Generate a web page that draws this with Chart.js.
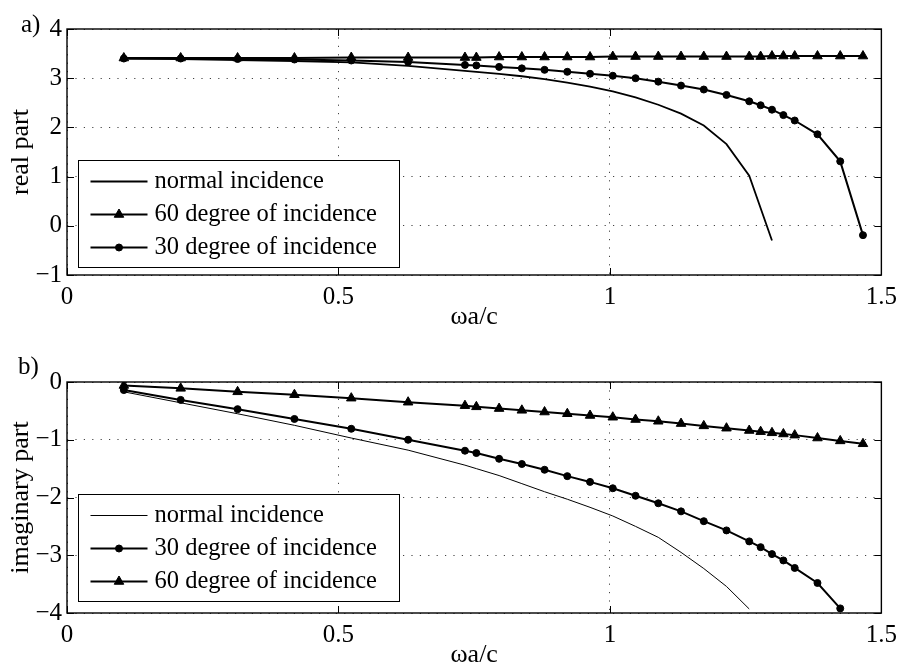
<!DOCTYPE html>
<html>
<head>
<meta charset="utf-8">
<script src="https://cdn.jsdelivr.net/npm/chart.js@4"></script>
<style>
  body { margin: 0; background: #fff; }
  #wrap { position: relative; width: 904px; height: 668px; font-family: 'Liberation Serif', 'Times New Roman', serif; }
  canvas { position: absolute; left: 0; }
  .tag { position: absolute; font-size: 25px; line-height: 25px; color: #000; }
</style>
</head>
<body>
<div id="wrap">
  <canvas id="realChart" width="904" height="334" style="top:0"></canvas>
  <canvas id="imagChart" width="904" height="334" style="top:334px"></canvas>
  <div class="tag" style="left:21px;top:11px">a)</div>
  <div class="tag" style="left:18px;top:353px">b)</div>
</div>
<script>
// frequency samples (ωa/c)
var omega = [0.1047, 0.2094, 0.3142, 0.4189, 0.5236, 0.6283, 0.7330, 0.7540, 0.7959, 0.8378,
             0.8796, 0.9215, 0.9634, 1.0053, 1.0472, 1.0891, 1.1310, 1.1729, 1.2147, 1.2566,
             1.2776, 1.2985, 1.3195, 1.3404, 1.3823, 1.4242, 1.4661];
var omegaNormal = [0.1047, 0.2094, 0.3142, 0.4189, 0.5236, 0.6283, 0.7330, 0.7540, 0.7959, 0.8378,
                   0.8796, 0.9215, 0.9634, 1.0053, 1.0472, 1.0891, 1.1310, 1.1729, 1.2147, 1.2566,
                   1.2985];

// real part
var realNormal = [3.40, 3.39, 3.37, 3.35, 3.32, 3.25, 3.15, 3.13, 3.09, 3.04,
                  2.98, 2.91, 2.83, 2.73, 2.61, 2.46, 2.28, 2.04, 1.66, 1.02, -0.30];
var real60 = [3.41, 3.41, 3.41, 3.41, 3.42, 3.42, 3.42, 3.42, 3.43, 3.43,
              3.43, 3.43, 3.43, 3.44, 3.44, 3.44, 3.44, 3.44, 3.44, 3.44,
              3.44, 3.45, 3.45, 3.45, 3.45, 3.45, 3.45];
var real30 = [3.40, 3.40, 3.39, 3.38, 3.36, 3.33, 3.27, 3.26, 3.23, 3.20,
              3.17, 3.13, 3.09, 3.05, 3.00, 2.93, 2.85, 2.77, 2.66, 2.53,
              2.45, 2.36, 2.25, 2.14, 1.86, 1.31, -0.19];

// imaginary part
var imagNormal = [-0.17, -0.36, -0.55, -0.75, -0.97, -1.18, -1.44, -1.50, -1.62, -1.76,
                  -1.90, -2.03, -2.17, -2.32, -2.50, -2.69, -2.95, -3.23, -3.54, -3.93];
var imag30 = [-0.14, -0.31, -0.47, -0.64, -0.81, -1.00, -1.19, -1.23, -1.33, -1.42,
              -1.52, -1.63, -1.73, -1.84, -1.97, -2.10, -2.24, -2.41, -2.57, -2.76,
              -2.86, -2.98, -3.09, -3.22, -3.48, -3.92];
var imag60 = [-0.06, -0.11, -0.17, -0.22, -0.28, -0.35, -0.41, -0.43, -0.46, -0.49,
              -0.52, -0.55, -0.58, -0.61, -0.65, -0.68, -0.72, -0.76, -0.80, -0.84,
              -0.86, -0.88, -0.90, -0.92, -0.97, -1.02, -1.07];

var xTicks = [0, 0.5, 1, 1.5];

function points(xs, ys) {
    return ys.map(function(y, i) { return {x: xs[i], y: y}; });
}

Chart.defaults.font.family = "'Liberation Serif', 'Times New Roman', serif";
Chart.defaults.font.size = 25;
Chart.defaults.color = '#000';

function plain(label, data, width) {
    return {label: label, data: data, borderColor: '#000', borderWidth: width,
            pointRadius: 0, tension: 0};
}
function marked(label, data, style, radius) {
    return {label: label, data: data, borderColor: '#000', borderWidth: 2, tension: 0,
            pointStyle: style, pointRadius: radius, pointBorderWidth: 1,
            pointBackgroundColor: '#000', pointBorderColor: '#000'};
}

function tickText(v) {
    return String(v).replace('-', '\u2212');
}

// box around the plot, inward ticks and a legend sitting inside the axes
var framePlugin = {
    id: 'frame',
    afterDatasetsDraw: function(chart) {
        var ctx = chart.ctx, ca = chart.chartArea;
        var sx = chart.scales.x, sy = chart.scales.y;
        ctx.save();
        ctx.strokeStyle = '#000';
        ctx.lineWidth = 1;
        ctx.beginPath();
        sx.ticks.forEach(function(t) {
            var px = Math.round(sx.getPixelForValue(t.value)) + 0.5;
            ctx.moveTo(px, ca.bottom); ctx.lineTo(px, ca.bottom - 7);
            ctx.moveTo(px, ca.top); ctx.lineTo(px, ca.top + 7);
        });
        sy.ticks.forEach(function(t) {
            var py = Math.round(sy.getPixelForValue(t.value)) + 0.5;
            ctx.moveTo(ca.left, py); ctx.lineTo(ca.left + 7, py);
            ctx.moveTo(ca.right, py); ctx.lineTo(ca.right - 7, py);
        });
        ctx.stroke();
        ctx.lineWidth = 1.4;
        ctx.strokeRect(ca.left, ca.top, ca.right - ca.left, ca.bottom - ca.top);
        ctx.restore();
    },
    afterDraw: function(chart, args, opts) {
        var ctx = chart.ctx, ca = chart.chartArea;
        var bx = Math.round(ca.left + opts.left) + 0.5;
        var by = Math.round(ca.bottom - opts.bottom - opts.height) + 0.5;
        ctx.save();
        ctx.fillStyle = '#fff';
        ctx.fillRect(bx, by, opts.width, opts.height);
        ctx.strokeStyle = '#000';
        ctx.lineWidth = 1;
        ctx.strokeRect(bx, by, opts.width, opts.height);
        ctx.font = "24.5px 'Liberation Serif', 'Times New Roman', serif";
        ctx.textBaseline = 'middle';
        chart.data.datasets.forEach(function(ds, i) {
            var y = by + 21 + 33 * i;
            ctx.strokeStyle = '#000';
            ctx.fillStyle = '#000';
            ctx.lineWidth = ds.borderWidth;
            ctx.beginPath();
            ctx.moveTo(bx + 12, y);
            ctx.lineTo(bx + 69, y);
            ctx.stroke();
            if (ds.pointRadius > 0) {
                ctx.lineWidth = ds.pointBorderWidth;
                Chart.helpers.drawPoint(ctx, {pointStyle: ds.pointStyle, radius: ds.pointRadius,
                    borderWidth: ds.pointBorderWidth, rotation: 0}, bx + 40.5, y);
            }
            ctx.fillText(ds.label, bx + 76, y);
        });
        ctx.restore();
    }
};

function makeOptions(yMin, yMax, yTitle, xHeight, xTitlePad, legendGap) {
    return {
        responsive: false,
        animation: false,
        events: [],
        layout: {padding: {left: 0, right: 17, top: 0, bottom: 0}},
        plugins: {
            legend: {display: false},
            tooltip: {enabled: false},
            frame: {left: 11, bottom: legendGap, width: 321, height: 107}
        },
        scales: {
            x: {
                type: 'linear', min: 0, max: 1.5,
                afterBuildTicks: function(s) { s.ticks = xTicks.map(function(v) { return {value: v}; }); },
                afterFit: function(s) { s.height = xHeight; },
                ticks: {padding: 7, maxRotation: 0, autoSkip: false, callback: tickText},
                grid: {color: '#444', lineWidth: 1, drawTicks: false},
                border: {display: false, dash: [1.2, 7.2]},
                title: {display: true, text: 'ωa/c', font: {size: 26, lineHeight: 1},
                        padding: {top: 0, bottom: xTitlePad}}
            },
            y: {
                min: yMin, max: yMax,
                afterFit: function(s) { s.width = 67; },
                ticks: {stepSize: 1, padding: 5, callback: tickText},
                grid: {color: '#444', lineWidth: 1, drawTicks: false},
                border: {display: false, dash: [1.2, 7.2]},
                title: {display: true, text: yTitle, font: {size: 26, lineHeight: 1},
                        padding: {top: 8, bottom: 0}}
            }
        }
    };
}

var realOpts = makeOptions(-1, 4, 'real part', 59, 4, 8);
realOpts.layout.padding.top = 29;
new Chart(document.getElementById('realChart'), {
    type: 'line',
    data: {datasets: [
        plain('normal incidence', points(omegaNormal, realNormal), 1.8),
        marked('60 degree of incidence', points(omega, real60), 'triangle', 5.5),
        marked('30 degree of incidence', points(omega, real30), 'circle', 3.5)
    ]},
    options: realOpts,
    plugins: [framePlugin]
});

var imagOpts = makeOptions(-4, 0, 'imaginary part', 55, 0, 12);
imagOpts.layout.padding.top = 48;
new Chart(document.getElementById('imagChart'), {
    type: 'line',
    data: {datasets: [
        plain('normal incidence', points(omega, imagNormal), 1),
        marked('30 degree of incidence', points(omega, imag30), 'circle', 3.5),
        marked('60 degree of incidence', points(omega, imag60), 'triangle', 5.5)
    ]},
    options: imagOpts,
    plugins: [framePlugin]
});
</script>
</body>
</html>
